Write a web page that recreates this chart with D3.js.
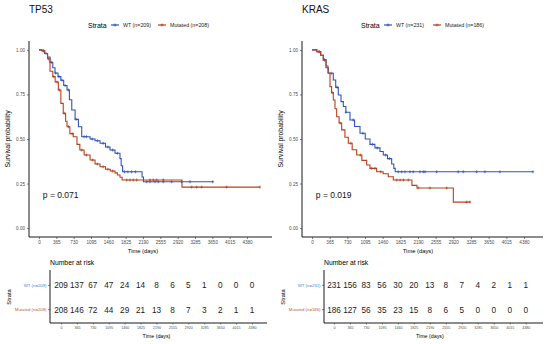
<!DOCTYPE html>
<html>
<head>
<meta charset="utf-8">
<script src="https://cdn.jsdelivr.net/npm/d3@7"></script>
<style>
  body { margin: 0; background: #fff; }
  text { font-family: "Liberation Sans", Arial, sans-serif; }
</style>
</head>
<body>
<script>
// Kaplan-Meier step curves

const tickDays = [0, 365, 730, 1095, 1460, 1825, 2190, 2555, 2920, 3285, 3650, 4015, 4380];
const yTicks = [0, 0.25, 0.5, 0.75, 1];

// TP53
const tp53WtTime = [0, 60, 120, 180, 232, 290, 337, 400, 460, 520, 590, 640, 690, 760, 830, 900, 1075, 1180, 1285, 1400, 1495, 1600, 1705, 1730, 1760, 2170, 2200, 3660];
const tp53WtSurv = [1, 0.995, 0.98, 0.96, 0.93, 0.9, 0.87, 0.85, 0.83, 0.8, 0.775, 0.72, 0.663, 0.61, 0.569, 0.513, 0.5, 0.49, 0.476, 0.455, 0.438, 0.42, 0.39, 0.35, 0.316, 0.287, 0.26, 0.26];
const tp53WtCensor = [100, 150, 260, 350, 420, 480, 550, 620, 780, 950, 1000, 1120, 1230, 1350, 1450, 1550, 1650, 1800, 1870, 1950, 2030, 2267, 2337, 2442, 2512, 2617, 2793, 3004, 3179, 3660];

const tp53MutTime = [0, 60, 120, 180, 232, 290, 340, 407, 460, 510, 560, 590, 650, 720, 800, 860, 950, 1075, 1180, 1285, 1400, 1500, 1600, 1650, 1705, 1750, 3010, 4650];
const tp53MutSurv = [1, 0.995, 0.98, 0.95, 0.88, 0.85, 0.82, 0.775, 0.7, 0.644, 0.6, 0.569, 0.53, 0.513, 0.47, 0.438, 0.41, 0.382, 0.36, 0.344, 0.33, 0.32, 0.31, 0.298, 0.285, 0.27, 0.23, 0.23];
const tp53MutCensor = [90, 200, 310, 380, 430, 530, 620, 700, 900, 1000, 1130, 1230, 1350, 1450, 1550, 1846, 1916, 1986, 2056, 2337, 2407, 2477, 2617, 3214, 3319, 3425, 3951, 4650];

// KRAS
const krasWtTime = [0, 100, 180, 233, 290, 337, 440, 490, 543, 600, 647, 700, 785, 880, 992, 1100, 1198, 1300, 1405, 1473, 1560, 1646, 1690, 1720, 4565];
const krasWtSurv = [1, 0.99, 0.97, 0.944, 0.9, 0.869, 0.831, 0.79, 0.747, 0.71, 0.682, 0.65, 0.607, 0.57, 0.532, 0.5, 0.47, 0.45, 0.43, 0.41, 0.39, 0.36, 0.335, 0.316, 0.316];
const krasWtCensor = [150, 260, 400, 520, 700, 850, 1050, 1250, 1350, 1520, 1600, 1783, 1852, 1921, 2024, 2093, 2231, 2300, 2334, 2576, 3022, 3126, 3401, 3573, 3883, 4565];

const krasMutTime = [0, 100, 180, 233, 290, 330, 372, 405, 440, 475, 510, 560, 613, 680, 750, 830, 923, 1030, 1130, 1198, 1336, 1470, 1576, 1680, 2065, 2169, 2920, 3270];
const krasMutSurv = [1, 0.99, 0.97, 0.944, 0.91, 0.87, 0.794, 0.76, 0.719, 0.67, 0.625, 0.59, 0.551, 0.51, 0.476, 0.44, 0.41, 0.38, 0.354, 0.335, 0.316, 0.305, 0.288, 0.27, 0.24, 0.225, 0.146, 0.146];
const krasMutCensor = [140, 250, 420, 580, 800, 1000, 1233, 1301, 1420, 1750, 1820, 1890, 1990, 2196, 2437, 2782, 3195, 3264];

// numbers at risk
const tp53WtRisk = [209, 137, 67, 47, 24, 14, 8, 6, 5, 1, 0, 0, 0];
const tp53MutRisk = [208, 146, 72, 44, 29, 21, 13, 8, 7, 3, 2, 1, 1];
const krasWtRisk = [231, 156, 83, 56, 30, 20, 13, 8, 7, 4, 2, 1, 1];
const krasMutRisk = [186, 127, 56, 35, 23, 15, 8, 6, 5, 0, 0, 0, 0];

const wtColor = "#2f55b8";
const mutColor = "#b5421f";
const tickColor = "#4d4d4d";

let svg = d3.select("body").append("svg")
  .attr("width", 550)
  .attr("height", 344);

function survAt(times, surv, t) {
  let i = d3.bisectRight(times, t) - 1;
  return surv[Math.max(0, i)];
}

function drawPanel(p) {
  let g = svg.append("g");

  // main plot scales
  const x = d3.scaleLinear().domain(p.xDomain).range([p.left, p.right]);
  const y = d3.scaleLinear().domain([-0.05, 1.05]).range([237, 41]);

  // title
  g.append("text").attr("x", p.left).attr("y", 13)
    .attr("font-size", 10).attr("fill", "#111").text(p.title);

  // legend
  let lg = g.append("g").attr("transform", `translate(${p.legendX},25)`);
  lg.append("text").attr("x", 0).attr("y", 2.5).attr("font-size", 7).text("Strata");
  const legItems = [
    { label: p.wtLabel, color: wtColor, dx: 23 },
    { label: p.mutLabel, color: mutColor, dx: p.legendMutX }
  ];
  legItems.forEach(d => {
    lg.append("line").attr("x1", d.dx).attr("x2", d.dx + 8).attr("y1", 0).attr("y2", 0)
      .attr("stroke", d.color).attr("stroke-width", 1.2);
    lg.append("path").attr("d", `M${d.dx + 2.5},0h3M${d.dx + 4},-1.5v3`)
      .attr("stroke", d.color).attr("stroke-width", 0.8);
    lg.append("text").attr("x", d.dx + 12).attr("y", 2).attr("font-size", 5.3)
      .attr("fill", "#222").text(d.label);
  });

  // axes
  let xAxis = g.append("g").attr("transform", "translate(0,237)")
    .call(d3.axisBottom(x).tickValues(tickDays).tickFormat(d3.format("d")).tickSize(2).tickPadding(2));
  let yAxis = g.append("g").attr("transform", `translate(${p.left},0)`)
    .call(d3.axisLeft(y).tickValues(yTicks).tickFormat(d3.format(".2f")).tickSize(2).tickPadding(2));
  [xAxis, yAxis].forEach(a => {
    a.select(".domain").attr("stroke", "#000").attr("stroke-width", 0.9);
    a.selectAll(".tick line").attr("stroke", "#333").attr("stroke-width", 0.6);
    a.selectAll(".tick text").attr("fill", tickColor).attr("font-size", 4.6)
      .attr("font-family", "Liberation Sans, Arial, sans-serif");
  });
  xAxis.select(".domain").attr("d", `M${p.left},0H${p.right}`);
  yAxis.select(".domain").attr("d", `M0,${41}V237`);

  g.append("text").attr("x", (x(0) + x(4380)) / 2).attr("y", 253)
    .attr("text-anchor", "middle").attr("font-size", 5.8).text("Time (days)");
  g.append("text").attr("transform", `translate(${p.left - 19},139) rotate(-90)`)
    .attr("text-anchor", "middle").attr("font-size", 6.8).text("Survival probability");

  // curves
  const line = d3.line().curve(d3.curveStepAfter).x(d => x(d[0])).y(d => y(d[1]));
  p.curves.forEach(c => {
    const pts = c.time.map((t, i) => [t, c.surv[i]]);
    g.append("path").datum(pts).attr("d", line)
      .attr("fill", "none").attr("stroke", c.color).attr("stroke-width", 1.1);
    g.selectAll(null).data(c.censor).enter().append("path")
      .attr("d", t => {
        const cx = x(t), cy = y(survAt(c.time, c.surv, t));
        return `M${cx - 1.3},${cy}h2.6M${cx},${cy - 1.5}v3`;
      })
      .attr("stroke", c.color).attr("stroke-width", 0.7);
  });

  // p-value
  g.append("text").attr("x", x(80)).attr("y", y(0.17)).attr("font-size", 8.5)
    .attr("fill", "#111").text(p.pval);

  // risk table
  const xt = d3.scaleLinear().domain(p.tDomain).range([p.tLeft, p.tRight]);
  const yt = d3.scaleBand().domain(["wt", "mut"]).range([272, 323]).padding(0.1);

  g.append("text").attr("x", p.tLeft).attr("y", 265).attr("font-size", 6.8).text("Number at risk");

  let tx = g.append("g").attr("transform", "translate(0,323)")
    .call(d3.axisBottom(xt).tickValues(tickDays).tickFormat(d3.format("d")).tickSize(1.5).tickPadding(1.5));
  let ty = g.append("g").attr("transform", `translate(${p.tLeft},0)`)
    .call(d3.axisLeft(yt).tickFormat(d => d === "wt" ? p.wtLabel : p.mutLabel).tickSize(2).tickPadding(1.5));
  [tx, ty].forEach(a => {
    a.select(".domain").attr("stroke", "#000").attr("stroke-width", 0.9);
    a.selectAll(".tick line").attr("stroke", "#333").attr("stroke-width", 0.6);
    a.selectAll(".tick text").attr("font-family", "Liberation Sans, Arial, sans-serif");
  });
  tx.select(".domain").attr("d", `M${p.tLeft},0H${p.tRight}`);
  ty.select(".domain").attr("d", "M0,270V323");
  tx.selectAll(".tick text").attr("fill", tickColor).attr("font-size", 3.6);
  ty.selectAll(".tick text").attr("font-size", 4.3)
    .attr("fill", d => d === "wt" ? "#3d86d6" : "#c0623a");

  const rows = [
    { key: "wt", vals: p.wtRisk },
    { key: "mut", vals: p.mutRisk }
  ];
  rows.forEach(r => {
    g.selectAll(null).data(r.vals).enter().append("text")
      .attr("x", (d, i) => xt(tickDays[i]))
      .attr("y", yt(r.key) + yt.bandwidth() / 2 + 3)
      .attr("text-anchor", "middle").attr("font-size", 8.2).attr("fill", "#1a1a1a")
      .text(d => d);
  });

  g.append("text").attr("x", (xt(0) + xt(4380)) / 2).attr("y", 338)
    .attr("text-anchor", "middle").attr("font-size", 5.3).text("Time (days)");
  g.append("text").attr("transform", `translate(${p.tLeft - 39},297) rotate(-90)`)
    .attr("text-anchor", "middle").attr("font-size", 5.8).text("Strata");
}

drawPanel({
  title: "TP53", pval: "p = 0.071",
  left: 29, right: 272, xDomain: [-210.6, 4906],
  legendX: 88, legendMutX: 70,
  wtLabel: "WT (n=209)", mutLabel: "Mutated (n=208)",
  curves: [
    { time: tp53WtTime, surv: tp53WtSurv, censor: tp53WtCensor, color: wtColor },
    { time: tp53MutTime, surv: tp53MutSurv, censor: tp53MutCensor, color: mutColor }
  ],
  tLeft: 50, tRight: 267, tDomain: [-252, 4724],
  wtRisk: tp53WtRisk, mutRisk: tp53MutRisk
});

drawPanel({
  title: "KRAS", pval: "p = 0.019",
  left: 302, right: 543, xDomain: [-206.6, 4773],
  legendX: 361, legendMutX: 72,
  wtLabel: "WT (n=231)", mutLabel: "Mutated (n=186)",
  curves: [
    { time: krasWtTime, surv: krasWtSurv, censor: krasWtCensor, color: wtColor },
    { time: krasMutTime, surv: krasMutSurv, censor: krasMutCensor, color: mutColor }
  ],
  tLeft: 324, tRight: 543, tDomain: [-228.5, 4776],
  wtRisk: krasWtRisk, mutRisk: krasMutRisk
});
</script>
</body>
</html>
